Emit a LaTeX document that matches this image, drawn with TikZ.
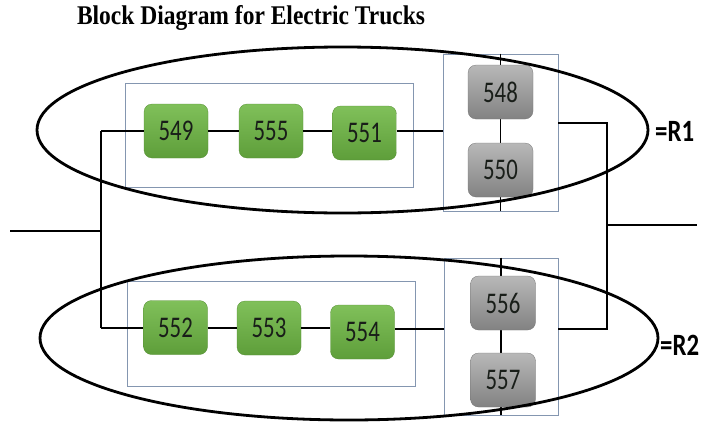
\documentclass[tikz,border=0pt]{standalone}
\usepackage{graphicx}
\usepackage{fontspec}
\setmainfont{Liberation Serif}
\newfontfamily\boxfont{Carlito}
\usetikzlibrary{positioning}

\definecolor{wire}{RGB}{0,0,0}
\definecolor{frameblue}{RGB}{132,150,176}
\definecolor{gtop}{RGB}{128,192,90}
\definecolor{gbot}{RGB}{94,158,58}
\definecolor{gytop}{RGB}{184,184,184}
\definecolor{gybot}{RGB}{130,130,130}
\definecolor{numtext}{RGB}{25,30,25}

\newcommand{\narrow}[2]{\scalebox{#1}[1]{#2}}

\begin{document}
\begin{tikzpicture}[x=1pt,y=-1pt,
  wireline/.style={draw=wire,line width=2.8pt},
  thinwire/.style={draw=wire,line width=1.5pt},
  loop/.style={draw=wire,line width=2.8pt},
  frame/.style={draw=frameblue,line width=0.8pt,fill=none,inner sep=0pt},
  greenbox/.style={rectangle,rounded corners=8pt,top color=gtop,bottom color=gbot,
    draw=gbot!90!black,line width=0.3pt,minimum width=64pt,minimum height=54pt,
    inner sep=0pt,text=numtext,font=\boxfont\fontsize{30}{30}\selectfont},
  graybox/.style={rectangle,rounded corners=8pt,top color=gytop,bottom color=gybot,
    draw=gybot!90!black,line width=0.3pt,minimum width=65pt,minimum height=54pt,
    inner sep=0pt,text=numtext,font=\boxfont\fontsize{30}{30}\selectfont},
  rlabel/.style={font=\boxfont\bfseries\fontsize{31}{31}\selectfont,inner sep=0pt,anchor=west},
  titlelabel/.style={font=\bfseries\fontsize{27}{27}\selectfont,inner sep=0pt}
]
\useasboundingbox (0,0) rectangle (702,426);

% title
\node[titlelabel] (title) at (251,18) {\narrow{0.87}{Block Diagram for Electric Trucks}};

% frames around the series and parallel groups
\node[frame,minimum width=288pt,minimum height=104pt] (seriesA) at (269,135) {};
\node[frame,minimum width=288pt,minimum height=105pt] (seriesB) at (271,333.5) {};
\node[frame,minimum width=115pt,minimum height=157pt] (parA) at (500.5,132.5) {};
\node[frame,minimum width=114pt,minimum height=157pt] (parB) at (501,336.5) {};

% junction points of the outer wiring
\coordinate (inL) at (10,231);
\coordinate (busL) at (101,231);
\coordinate (busLtop) at (101,131);
\coordinate (busLbot) at (101,328);
\coordinate (busR) at (607,225);
\coordinate (busRtop) at (607,123);
\coordinate (busRbot) at (607,329);
\coordinate (outR) at (697,225);

% vertical links inside the parallel frames
\draw[thinwire] (parA.north) -- (parA.south);
\draw[thinwire] (parB.north) -- (parB.south);

% blocks
\node[greenbox] (b549) at (176,131) {\narrow{0.76}{549}};
\node[greenbox] (b555) at (271,131) {\narrow{0.76}{555}};
\node[greenbox] (b551) at (364.5,133) {\narrow{0.76}{551}};
\node[greenbox] (b552) at (175.5,327.5) {\narrow{0.76}{552}};
\node[greenbox] (b553) at (269,328) {\narrow{0.76}{553}};
\node[greenbox] (b554) at (362.5,332) {\narrow{0.76}{554}};
\node[graybox] (b548) at (500.5,92) {\narrow{0.76}{548}};
\node[graybox] (b550) at (500.5,170) {\narrow{0.76}{550}};
\node[graybox] (b556) at (503,303) {\narrow{0.76}{556}};
\node[graybox] (b557) at (503,380) {\narrow{0.76}{557}};

% series wiring
\draw[wireline] (b549.east |- busLtop) -- (b555.west |- busLtop);
\draw[wireline] (b555.east |- busLtop) -- (b551.west |- busLtop);
\draw[wireline] (b551.east |- busLtop) -- (parA.west |- busLtop);
\draw[wireline] (b552.east |- busLbot) -- (b553.west |- busLbot);
\draw[wireline] (b553.east |- busLbot) -- (b554.west |- busLbot);
\draw[wireline] (b554.east |- busRbot) -- (parB.west |- busRbot);

% input side
\draw[wireline] (inL) -- (busL);
\draw[wireline] (busLtop) -- (busLbot);
\draw[wireline] (busLtop) -- (b549.west |- busLtop);
\draw[wireline] (busLbot) -- (b552.west |- busLbot);

% output side
\draw[wireline] (parA.east |- busRtop) -- (busRtop) -- (busRbot) -- (parB.east |- busRbot);
\draw[wireline] (busR) -- (outR);

% reliability groupings
\draw[loop] (342.5,130) ellipse [x radius=305.5, y radius=83];
\draw[loop] (349,338) ellipse [x radius=309, y radius=82];

\node[rlabel] (r1) at (655,131) {\narrow{0.8}{=R1}};
\node[rlabel] (r2) at (660,345) {\narrow{0.8}{=R2}};
\end{tikzpicture}
\end{document}
